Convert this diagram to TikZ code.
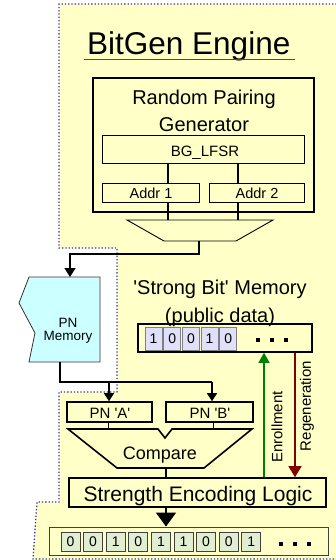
\documentclass[tikz,border=0pt]{standalone}
\usepackage{fontspec}
\setmainfont{Liberation Sans}
\usetikzlibrary{arrows.meta}
\definecolor{bgyellow}{HTML}{FFFFC8}
\definecolor{dotblue}{HTML}{3333AA}
\definecolor{pncyan}{HTML}{CCFFFF}
\definecolor{lav}{HTML}{E0E0FA}
\definecolor{cellgreen}{HTML}{E2EED2}
\definecolor{enrgreen}{HTML}{008000}
\definecolor{regred}{HTML}{800000}
\newcommand{\fsz}[1]{\fontsize{#1}{#1}\selectfont}
\tikzset{
  thickbox/.style={draw=black, line width=1.6pt, rectangle, inner sep=0pt},
  thinbox/.style={draw=black, line width=0.9pt, rectangle, inner sep=0pt},
  memcell/.style={draw=gray, line width=0.8pt, fill=lav, rectangle, inner sep=0pt, minimum width=17pt, minimum height=23pt, font=\fsz{14}},
  bitcell/.style={draw=black!75, line width=0.8pt, fill=cellgreen, rectangle, inner sep=0pt, minimum width=19pt, minimum height=19pt, font=\fsz{14}},
  dotsq/.style={fill=black, rectangle, inner sep=0pt, minimum width=4.5pt, minimum height=4.5pt},
  wire/.style={line width=1.4pt},
  lbl/.style={inner sep=0pt, anchor=base}
}
\begin{document}
\begin{tikzpicture}[x=1pt,y=-1pt]
\useasboundingbox (0,0) rectangle (336,560);
% background region
\fill[bgyellow] (59,4) -- (340,4) -- (340,564) -- (33,564) -- (37,502) -- (59,502) -- (59,392) -- (117,392) -- (117,248) -- (59,248) -- cycle;
\draw[dotblue, line width=1.3pt, dotted] (340,4) -- (59,4) -- (59,248) -- (117,248) -- (117,392) -- (59,392) -- (59,502) -- (37,502) -- (33,559) -- (340,559);
% title
\node[lbl, anchor=base west, font=\fsz{31.5}] (title) at (87,54) {BitGen Engine};
\draw[black!70, line width=1.4pt] (84,59.5) -- (295,59.5);
% random pairing generator
\node[thickbox, minimum width=221pt, minimum height=134pt] (rpg) at (203.5,145) {};
\node[lbl, font=\fsz{20}] (rpgt1) at (204,104) {Random Pairing};
\node[lbl, font=\fsz{20}] (rpgt2) at (204,131) {Generator};
\node[thinbox, minimum width=202pt, minimum height=28pt] (lfsr) at (203,149) {};
\node[lbl, font=\fsz{15}] (lfsrt) at (205,156) {BG\_LFSR};
\node[thinbox, minimum width=97pt, minimum height=19pt] (addr1) at (150.5,192.5) {};
\node[lbl, font=\fsz{14.5}] (addr1t) at (151,198.5) {Addr 1};
\node[thinbox, minimum width=95pt, minimum height=19pt] (addr2) at (256.5,192.5) {};
\node[lbl, font=\fsz{14.5}] (addr2t) at (257,198.5) {Addr 2};
\coordinate (cx1) at (168,0);
\coordinate (cx2) at (238,0);
\coordinate (mux1) at (168,220);
\coordinate (mux2) at (238,220);
\coordinate (muxout) at (199,241);
\draw[wire] (lfsr.south -| cx1) -- (addr1.north -| cx1);
\draw[wire] (lfsr.south -| cx2) -- (addr2.north -| cx2);
\draw[wire] (addr1.south -| cx1) -- (mux1);
\draw[wire] (addr2.south -| cx2) -- (mux2);
% mux
\draw[line width=0.9pt] (127,220) -- (273,220) -- (236,241) -- (164,241) -- cycle;
% PN memory
\filldraw[fill=pncyan, draw=black!80, line width=0.8pt] (29,277) -- (100,277) -- (100,362) -- (29,362) -- (35,333) -- (19,303) -- cycle;
\node[lbl, font=\fsz{13.5}] (pnt1) at (68,327) {PN};
\node[lbl, font=\fsz{13.5}] (pnt2) at (68,340) {Memory};
\coordinate (pnin) at (70,277);
\coordinate (pnout) at (60,362);
\draw[wire, -{Triangle[length=9pt,width=11pt]}] (muxout) -- (199,254) -- (70,254) -- (pnin);
% PN A / B
\node[thickbox, minimum width=85pt, minimum height=20pt] (pna) at (109.5,412) {};
\node[lbl, font=\fsz{15}] (pnat) at (110,418) {PN \textquotesingle A\textquotesingle};
\node[thickbox, minimum width=87pt, minimum height=20pt] (pnb) at (209.5,412) {};
\node[lbl, font=\fsz{15}] (pnbt) at (210,418) {PN \textquotesingle B\textquotesingle};
\coordinate (split) at (60,382);
\draw[wire] (pnout) -- (split) -- (212,382);
\draw[wire, -{Triangle[length=8pt,width=10pt]}] (109,382) -- (pna.north -| 109,0);
\draw[wire, -{Triangle[length=8pt,width=10pt]}] (212,382) -- (pnb.north -| 212,0);
% compare
\draw[line width=1.6pt] (68,429) -- (158,429) -- (165,438) -- (172,429) -- (252,429) -- (204,468) -- (117,468) -- cycle;
\node[lbl, font=\fsz{18}] (cmpt) at (160,459) {Compare};
\coordinate (cmpa) at (108,429);
\coordinate (cmpb) at (213,429);
\coordinate (cmpout) at (166,468);
\draw[line width=1pt] (pna.south -| cmpa) -- (cmpa);
\draw[line width=1pt] (pnb.south -| cmpb) -- (cmpb);
% strength encoding logic
\node[thickbox, minimum width=257pt, minimum height=29pt] (sel) at (197.5,492.5) {};
\node[lbl, font=\fsz{21}] (selt) at (198,501) {Strength Encoding Logic};
\draw[wire] (cmpout) -- (sel.north -| cmpout);
% output bits
\node[draw=black!75, line width=0.9pt, rectangle, inner sep=0pt, minimum width=279pt, minimum height=28pt] (bits) at (188.5,541) {};
\draw[wire, -{Triangle[length=14pt,width=20pt]}] (sel.south -| 166,0) -- (bits.north -| 166,0);
\foreach \d [count=\i from 0] in {0,0,1,0,1,1,0,0,1} {
  \node[bitcell] (b\i) at ({70.5+22.6*\i},541.5) {\d};
}
\node[dotsq] (bd1) at (281,544) {};
\node[dotsq] (bd2) at (295,544) {};
\node[dotsq] (bd3) at (309,544) {};
% strong bit memory
\node[lbl, font=\fsz{20}] (sbt1) at (220,294) {\textquotesingle Strong Bit\textquotesingle\ Memory};
\node[lbl, font=\fsz{20}] (sbt2) at (220,322) {(public data)};
\node[thickbox, minimum width=174pt, minimum height=28pt] (mem) at (225,338) {};
\foreach \d [count=\i from 0] in {1,0,0,1,0} {
  \node[memcell] (m\i) at ({153.5+18.7*\i},338.5) {\d};
}
\node[dotsq] (md1) at (258,340) {};
\node[dotsq] (md2) at (272,340) {};
\node[dotsq] (md3) at (286,340) {};
% enrollment / regeneration
\draw[enrgreen, line width=1.2pt, -{Triangle[length=10pt,width=11pt]}] (sel.north -| 264,0) -- (mem.south -| 264,0);
\draw[regred, line width=1.2pt, -{Triangle[length=11pt,width=13pt]}] (mem.south -| 295,0) -- (sel.north -| 295,0);
\node[font=\fsz{15}, rotate=90, inner sep=0pt] (enrt) at (277,427) {Enrollment};
\node[font=\fsz{15}, rotate=90, inner sep=0pt] (regt) at (307,406) {Regeneration};
\end{tikzpicture}
\end{document}
